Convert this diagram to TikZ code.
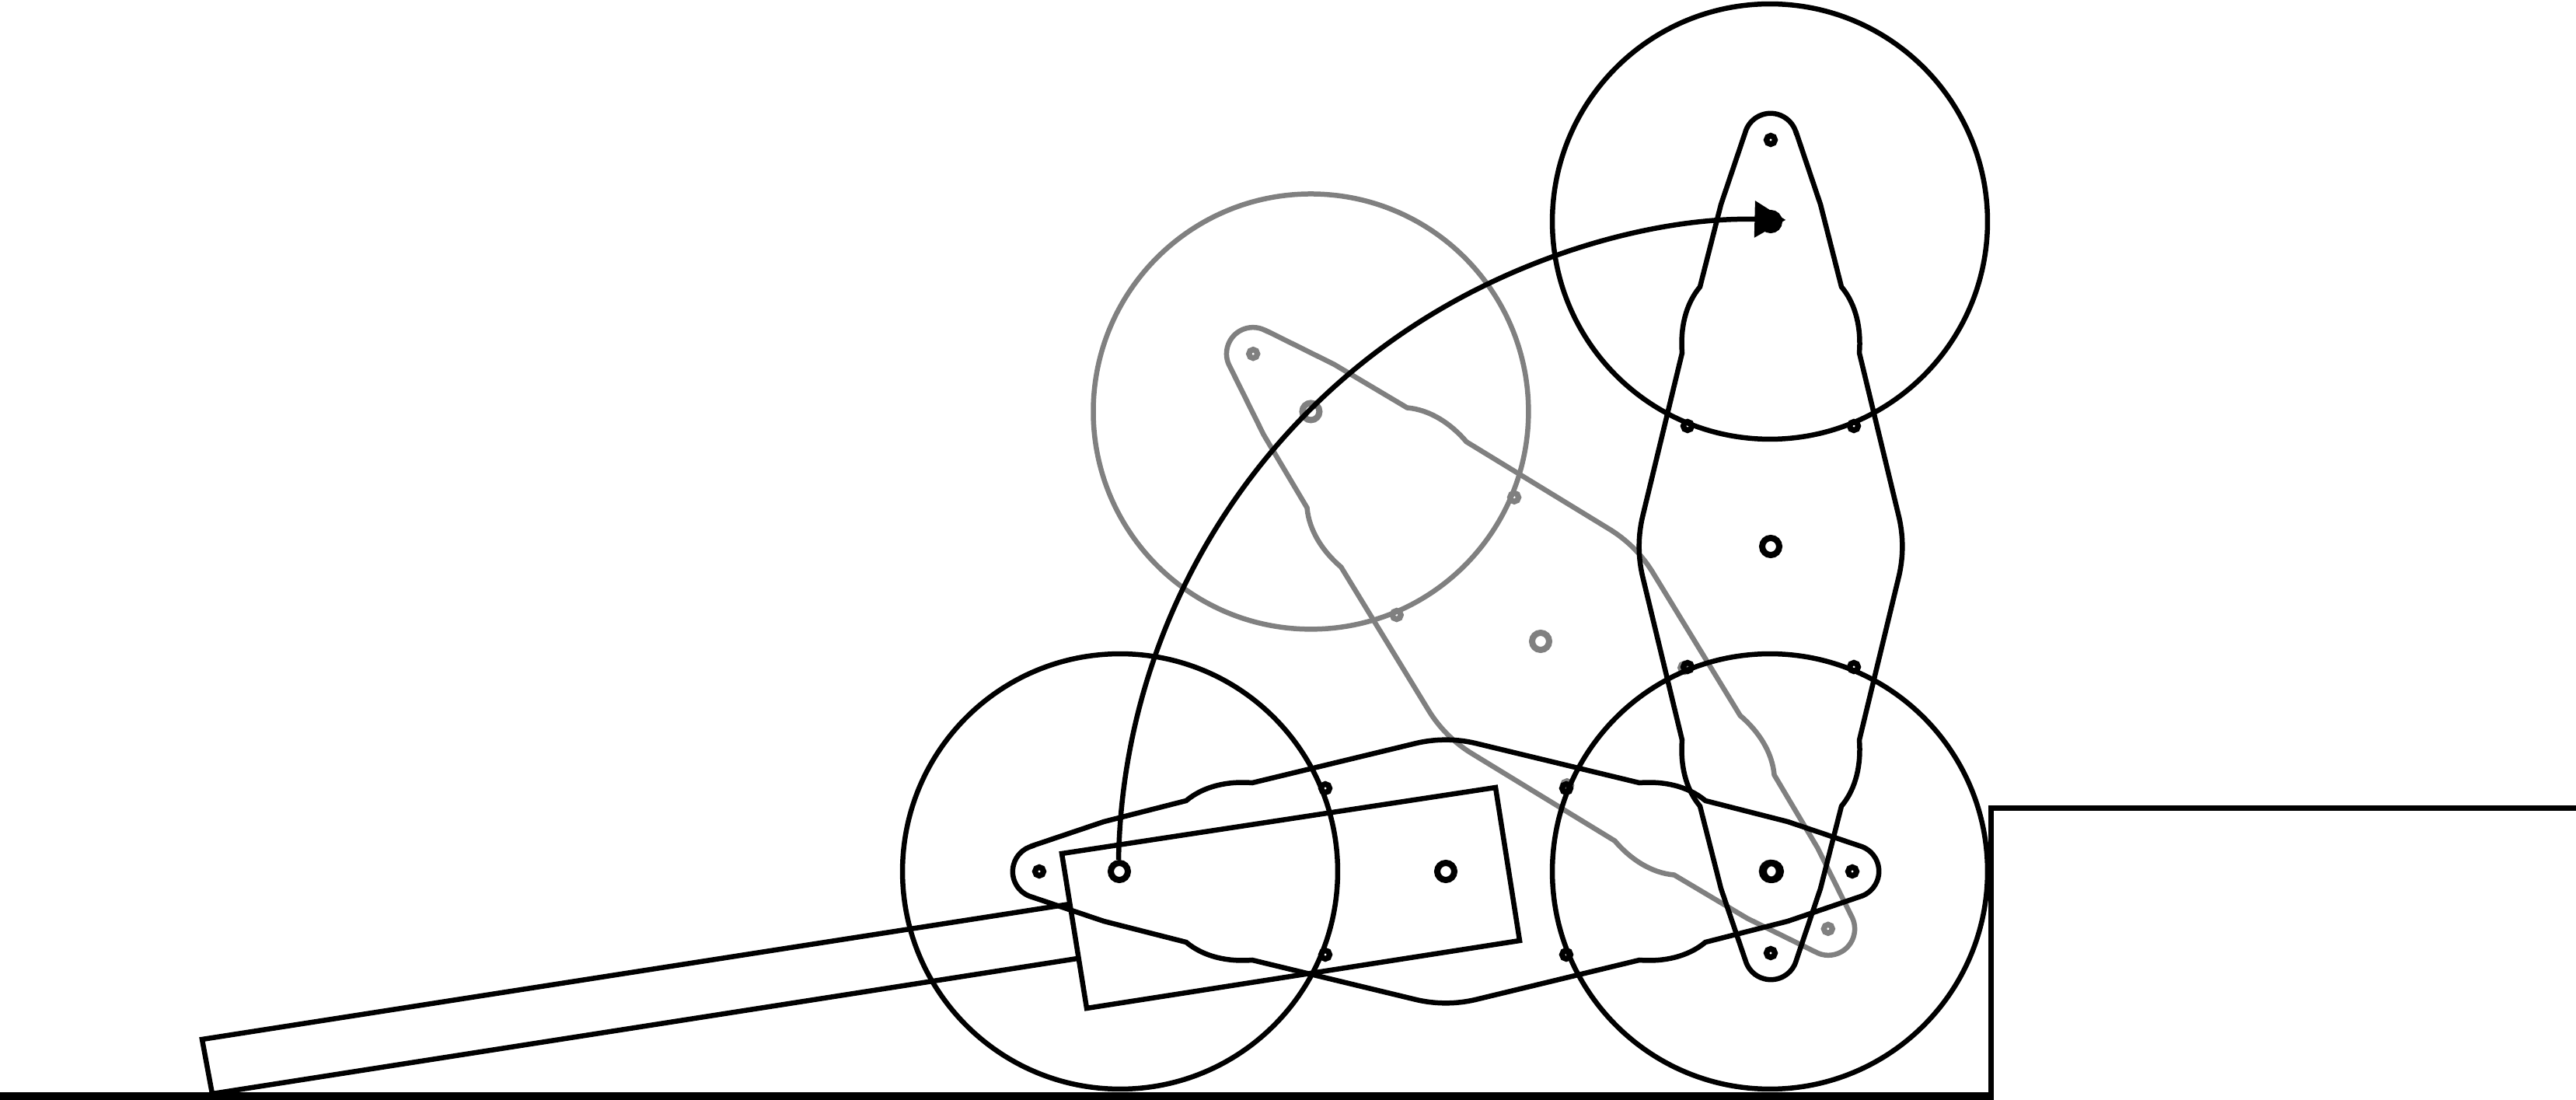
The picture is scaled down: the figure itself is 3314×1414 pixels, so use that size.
\documentclass[tikz,border=0pt]{standalone}
\usetikzlibrary{arrows.meta}
\definecolor{ghost}{gray}{0.5}
\tikzset{
  px/.style={x=0.02cm,y=0.02cm},
  ln/.style={line width=0.13cm,line join=miter},
  hub/.style={circle,draw,inner sep=0pt,minimum size=0.44cm,line width=0.16cm},
  pin/.style={circle,draw,inner sep=0pt,minimum size=0.22cm,line width=0.145cm},
  wheel/.style={circle,draw,inner sep=0pt,minimum size=11.2cm,line width=0.13cm}
}
% #1 prefix, #2 hub offset; outline and pivots of one plate, in its own frame
\newcommand{\plate}[2]{%
  \draw[ln] (33,532) -- (64,440) -- (91,334)
    .. controls (110.4,310.8) and (116.4,279.2) .. (114,249)
    -- (164,42) .. controls (171.1,14.4) and (171.1,-14.4) .. (164,-42)
    -- (114,-249) .. controls (116.4,-279.2) and (110.4,-310.8) .. (91,-334)
    -- (64,-440) -- (33,-532) arc[start angle=-15,end angle=-165,radius=34]
    -- (-64,-440) -- (-91,-334)
    .. controls (-110.4,-310.8) and (-116.4,-279.2) .. (-114,-249)
    -- (-164,-42) .. controls (-171.1,-14.4) and (-171.1,14.4) .. (-164,42)
    -- (-114,249) .. controls (-116.4,279.2) and (-110.4,310.8) .. (-91,334)
    -- (-64,440) -- (-33,532) arc[start angle=165,end angle=15,radius=34] -- cycle;
  \node[hub] (#1c) at (0,0) {};
  \node[hub] (#1a) at (0,#2) {};
  \node[hub] (#1b) at (0,-#2) {};
  \node[pin] (#1e) at (0,523) {};
  \node[pin] (#1f) at (0,-523) {};
  \node[pin] (#1p) at (107,155) {};
  \node[pin] (#1q) at (-107,155) {};
  \node[pin] (#1r) at (107,-155) {};
  \node[pin] (#1s) at (-107,-155) {};
}
\begin{document}
\begin{tikzpicture}[px]
\useasboundingbox (0,1) rectangle (3314,1415);
% grey plate and wheel
\begin{scope}[ghost,every node/.append style={ghost}]
  \begin{scope}[shift={(1982,590)},rotate=45]\plate{g}{418}\end{scope}
  \node[wheel] (gw) at (ga) {};
\end{scope}
% black plates
\begin{scope}[shift={(2278,712)}]\plate{v}{418}\end{scope}
\begin{scope}[shift={(1860,294)},rotate=90]\plate{h}{420}\end{scope}
% wheels
\node[wheel] (wt) at (2277,1130) {};
\node[wheel] (wr) at (2277,294) {};
\node[wheel] (wl) at (1441,294) {};
% body and tube
\draw[ln] (1366,317) coordinate (b1) -- (1924,402) coordinate (b2) -- (1955,205) coordinate (b3) -- (1398,118) coordinate (b4) -- cycle;
\draw[ln] (1376,252) -- (260,78) -- (273,8) -- (1386,182);
% ground
\draw[line width=0.2cm] (0,5) -- (2565,5);
\draw[line width=0.14cm] (2561.5,1) -- (2561.5,375) -- (3314,375);
% motion arc
\draw[ln,-{Triangle[length=0.8cm,width=0.92cm]}] (1439,309) arc[start angle=179,end angle=88.6,radius=838];
\end{tikzpicture}
\end{document}
